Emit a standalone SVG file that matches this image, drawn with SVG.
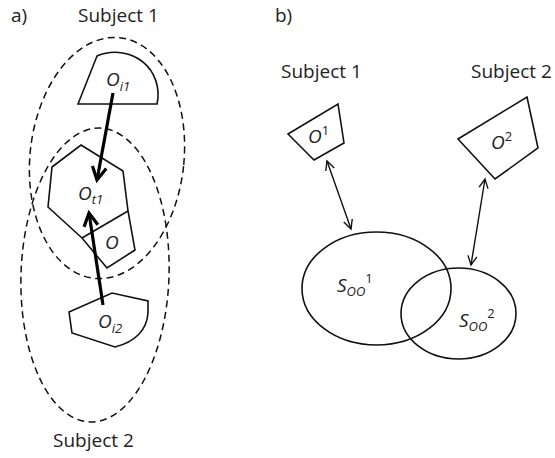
<svg xmlns="http://www.w3.org/2000/svg" width="555" height="458" viewBox="0 0 555 458">
<defs>
<style>
.t{font-family:"Open Sans","Liberation Sans",sans-serif;fill:#222}
.lbl{font-size:19px}
.it{font-family:"Open Sans","Liberation Sans",sans-serif;font-style:italic;fill:#222;font-size:19px}
.sub{font-size:13px}
.up{font-style:normal}
.dash{fill:none;stroke:#111;stroke-width:1.5;stroke-dasharray:7 4.5}
.shape{fill:#fff;stroke:#111;stroke-width:1.6;stroke-linejoin:miter}
.ell{fill:none;stroke:#111;stroke-width:1.6}
.thick{fill:none;stroke:#000;stroke-width:3.2}
.thin{fill:none;stroke:#111;stroke-width:1.4}
</style>
<marker id="bigV" markerUnits="userSpaceOnUse" markerWidth="20" markerHeight="20" viewBox="-16 -10 20 20" refX="0" refY="0" orient="auto">
<path d="M-13,-7 L0,0 L-13,7" fill="none" stroke="#000" stroke-width="3.2"/>
</marker>
<marker id="smallV" markerUnits="userSpaceOnUse" markerWidth="14" markerHeight="14" viewBox="-12 -7 14 14" refX="0" refY="0" orient="auto-start-reverse">
<path d="M-9,-4.5 L0,0 L-9,4.5" fill="none" stroke="#111" stroke-width="1.4"/>
</marker>
</defs>

<g id="titles">
<text class="t lbl" x="11" y="22">a)</text>
<text class="t lbl" x="275" y="22">b)</text>
</g>

<g id="subject1-left">
<ellipse class="dash" cx="107" cy="158" rx="77" ry="121" transform="rotate(6 107 158)"/>
<text class="t lbl" x="78" y="22">Subject 1</text>
</g>
<g id="subject2-left">
<ellipse class="dash" cx="95" cy="275" rx="74" ry="147" transform="rotate(2 95 275)"/>
<text class="t lbl" x="53" y="447">Subject 2</text>
</g>

<g id="Oi1">
<path class="shape" d="M78,104 L97,56 C125,44 160,62 158,98 L157,104 Z"/>
<text class="it" x="106" y="86">O<tspan class="sub" dy="5">i1</tspan></text>
</g>

<g id="Ot1">
<path class="shape" d="M81,145 L123,171 L128,211 L135,250 L107,268 L82,238 L48,207 L52,167 Z"/>
<path class="shape" d="M82,238 L128,211" fill="none"/>
<text class="it" x="78" y="200">O<tspan class="sub" dy="4">t1</tspan></text>
<text class="it" x="105" y="249">O</text>
</g>

<g id="Oi2">
<path class="shape" d="M69,312 L112,293 L148,301 L148,313 C147,330 135,342 115,347 L72,333 Z"/>
<text class="it" x="98" y="328">O<tspan class="sub" dy="5">i2</tspan></text>
</g>

<g id="O1">
<path class="shape" d="M288,134 L338,104 L344,143 L314,160 Z"/>
<text class="t lbl" x="281" y="78">Subject 1</text>
<text class="it" x="308" y="143">O<tspan class="sub up" dy="-8">1</tspan></text>
</g>

<g id="O2">
<path class="shape" d="M458,139 L527,97 L538,148 L495,179 Z"/>
<text class="t lbl" x="471" y="78">Subject 2</text>
<text class="it" x="491" y="149">O<tspan class="sub up" dy="-8">2</tspan></text>
</g>

<g id="Soo1">
<ellipse class="ell" cx="376.5" cy="288.5" rx="74.5" ry="56.5"/>
<text class="it" x="337" y="292">S<tspan class="sub" dy="4">OO</tspan><tspan class="sub up" dy="-13">1</tspan></text>
</g>

<g id="Soo2">
<ellipse class="ell" cx="458.5" cy="313.5" rx="57.5" ry="45.5"/>
<text class="it" x="459" y="327">S<tspan class="sub" dy="4">OO</tspan><tspan class="sub up" dy="-13">2</tspan></text>
</g>

<g id="connectors">
<line class="thick" x1="113" y1="93" x2="97" y2="180" marker-end="url(#bigV)"/>
<line class="thick" x1="103" y1="305" x2="89" y2="213" marker-end="url(#bigV)"/>
<line class="thin" x1="327" y1="161" x2="351" y2="229" marker-start="url(#smallV)" marker-end="url(#smallV)"/>
<line class="thin" x1="485" y1="179" x2="471" y2="265" marker-start="url(#smallV)" marker-end="url(#smallV)"/>
</g>
</svg>
